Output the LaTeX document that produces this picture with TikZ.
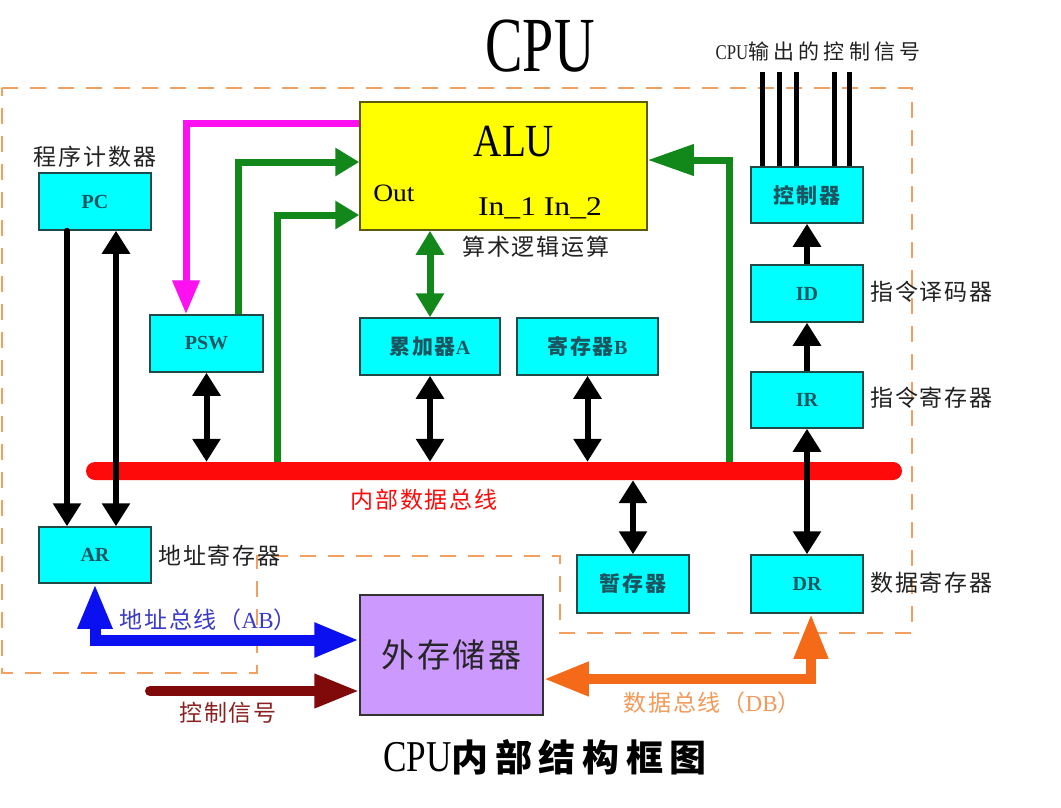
\documentclass[tikz,border=0pt]{standalone}
\usepackage{fontspec}
\usetikzlibrary{arrows.meta,calc}
\setmainfont{Liberation Serif}
\newfontfamily\cjk[LetterSpace=8]{Noto Sans CJK SC}
\newfontfamily\cjkw[LetterSpace=20]{Noto Sans CJK SC}
\newfontfamily\cjkt[LetterSpace=18]{Noto Sans CJK SC}
\definecolor{cyanbox}{HTML}{00FFFF}
\definecolor{boxborder}{HTML}{1F4A4A}
\definecolor{boxtext}{HTML}{1A5560}
\definecolor{aluyel}{HTML}{FFFF00}
\definecolor{aluborder}{HTML}{5A5A10}
\definecolor{memfill}{HTML}{CC99FF}
\definecolor{grn}{HTML}{12881A}
\definecolor{mag}{HTML}{FF10F0}
\definecolor{busred}{HTML}{FF0A0A}
\definecolor{abblue}{HTML}{0A10F0}
\definecolor{ablabel}{HTML}{3A3AC8}
\definecolor{ctlred}{HTML}{800A0A}
\definecolor{ctllabel}{HTML}{8A2020}
\definecolor{dborange}{HTML}{F46A18}
\definecolor{dblabel}{HTML}{F29A5A}
\definecolor{cpuframe}{HTML}{F0A060}
\definecolor{lbltext}{HTML}{222222}
\begin{document}
\begin{tikzpicture}[x=1pt,y=-1pt,
  box/.style={draw=boxborder, line width=1.5pt, fill=cyanbox, text=boxtext, inner sep=0pt,
    minimum width=112pt, minimum height=57pt, font=\bfseries\fontsize{20}{20}\selectfont},
  lbl/.style={inner sep=0pt, text=lbltext, font=\cjk\fontsize{23}{23}\selectfont},
  blk/.style={line width=6pt, draw=black},
  grnline/.style={line width=7pt, draw=grn},
  bigline/.style={line width=11pt},
  Bk/.tip={Triangle[length=23pt,width=27pt]},
  Gn/.tip={Triangle[length=24pt,width=27pt]},
  GnL/.tip={Triangle[length=46pt,width=30pt]},
  Mg/.tip={Triangle[length=34pt,width=26pt]},
  Bg/.tip={Triangle[length=45pt,width=32pt]}
]
\useasboundingbox (0,0) rectangle (1061,807);
\fill[white] (0,0) rectangle (1061,807);

% CPU frame
\draw[cpuframe, line width=2pt, dash pattern=on 16pt off 12pt]
  (2,88) -- (912,88) -- (912,633) -- (560,633) -- (560,556) -- (257,556) -- (257,673) -- (2,673) -- cycle;

% titles
\node[inner sep=0pt] (title) at (540,46) {\fontsize{78}{78}\selectfont\scalebox{0.72}[1]{CPU}};
\node[inner sep=0pt] (caption) at (545,757) {\fontsize{44}{44}\selectfont\scalebox{0.8}[1]{CPU}{\cjkt\bfseries\fontsize{37}{37}\selectfont 内部结构框图}};

% ALU and memory
\node[draw=aluborder, line width=1.5pt, fill=aluyel, minimum width=287pt, minimum height=128pt, inner sep=0pt] (ALU) at (503.5,166) {};
\node[inner sep=0pt] (alutxt) at (514,142) {\fontsize{46}{46}\selectfont\scalebox{0.85}[1]{ALU}};
\node[inner sep=0pt] (outtxt) at (394,193) {\fontsize{25}{25}\selectfont\scalebox{1.1}[1]{Out}};
\node[inner sep=0pt] (intxt) at (540,208) {\fontsize{27}{27}\selectfont\scalebox{1.17}[1]{In\_1 In\_2}};
\node[draw=black!80, line width=1.5pt, fill=memfill, minimum width=183pt, minimum height=120pt, inner sep=0pt,
  font=\cjk\fontsize{33}{33}\selectfont, text=black!85] (MEM) at (451.5,655) {外存储器};

% registers
\node[box] (PC) at (95,201.5) {PC};
\node[box, minimum width=113pt] (PSW) at (206.5,343.5) {PSW};
\node[box, minimum width=140pt] (A) at (430,346.5) {{\cjk\bfseries\fontsize{21}{21}\selectfont 累加器}A};
\node[box, minimum width=141pt] (B) at (587.5,346.5) {{\cjk\bfseries\fontsize{21}{21}\selectfont 寄存器}B};
\node[box, minimum height=56pt] (K) at (807,195) {{\cjk\bfseries\fontsize{21}{21}\selectfont 控制器}};
\node[box] (ID) at (807,293.5) {ID};
\node[box, minimum height=56pt] (IR) at (807,400) {IR};
\node[box, minimum height=56pt] (AR) at (95,555) {AR};
\node[box, minimum height=58pt] (T) at (633,584) {{\cjk\bfseries\fontsize{21}{21}\selectfont 暂存器}};
\node[box, minimum height=58pt] (DR) at (807,584) {DR};

% internal bus
\node[fill=busred, rounded corners=9pt, minimum width=816pt, minimum height=18pt, inner sep=0pt] (bus) at (494,471) {};

% labels
\node[lbl] (lPC) at (95,157) {程序计数器};
\node[lbl, anchor=west] (lAR) at (158,556) {地址寄存器};
\node[lbl, anchor=west] (lALU) at (462,247) {算术逻辑运算};
\node[lbl, anchor=west] (lID) at (870,292) {指令译码器};
\node[lbl, anchor=west] (lIR) at (870,398) {指令寄存器};
\node[lbl, anchor=west] (lDR) at (870,583) {数据寄存器};
\node[inner sep=0pt, text=lbltext] (lK) at (818,52) {\fontsize{21}{21}\selectfont\scalebox{0.8}[1]{CPU}{\cjkw 输出的控制信号}};
\node[lbl, text=busred] (lbus) at (424,500) {内部数据总线};
\node[lbl, text=ablabel] (lAB) at (208,620) {地址总线（\rmfamily AB\cjk ）};
\node[lbl, text=ctllabel] (lCS) at (228,713) {控制信号};
\node[lbl, text=dblabel] (lDB) at (712,703) {数据总线（\rmfamily DB\cjk ）};

% black connectors
\draw[blk, line cap=round, -Bk] ([xshift=-28pt]PC.south) -- ([xshift=-28pt]AR.north);
\draw[blk, Bk-Bk] ([xshift=21pt]PC.south) -- ([xshift=21pt]AR.north);
\draw[blk, Bk-Bk] (PSW.south) -- (PSW.south |- bus.north);
\draw[blk, Bk-Bk] (A.south) -- (A.south |- bus.north);
\draw[blk, Bk-Bk] (B.south) -- (B.south |- bus.north);
\draw[blk, Bk-Bk] (T.north |- bus.south) -- (T.north);
\draw[blk, Bk-Bk] (IR.south) -- (DR.north);
\draw[blk, -Bk] (IR.north) -- (ID.south);
\draw[blk, -Bk] (ID.north) -- (K.south);
\foreach \dx in {-45,-28,-11,27,42}
  \draw[line width=5pt] ([xshift=\dx pt]K.north) -- ++(0,-94);

% green connectors
\draw[grnline, -Gn] ([xshift=31.5pt]PSW.north) |- ([yshift=4pt]ALU.west);
\draw[grnline, -Gn] ([xshift=-217pt]bus.north) |- ([yshift=-49pt]ALU.west);
\draw[grnline, -GnL] ([xshift=235pt]bus.north) |- ([yshift=6pt]ALU.east);
\draw[grnline, Gn-Gn] (A.north |- ALU.south) -- (A.north);

% magenta
\draw[line width=7pt, mag, -Mg] ([yshift=43pt]ALU.west) -| ([xshift=-20.5pt]PSW.north);

% external buses
\coordinate (cs) at (150,691);
\draw[bigline, abblue, Bg-Bg] (AR.south) |- ([yshift=15pt]MEM.west);
\draw[line width=10pt, ctlred, line cap=round, -Bg] (cs) -- (cs -| MEM.west);
\draw[line width=10pt, dborange, Bg-Bg] ([xshift=4pt]DR.south) |- ([yshift=-24pt]MEM.east);
\end{tikzpicture}
\end{document}
